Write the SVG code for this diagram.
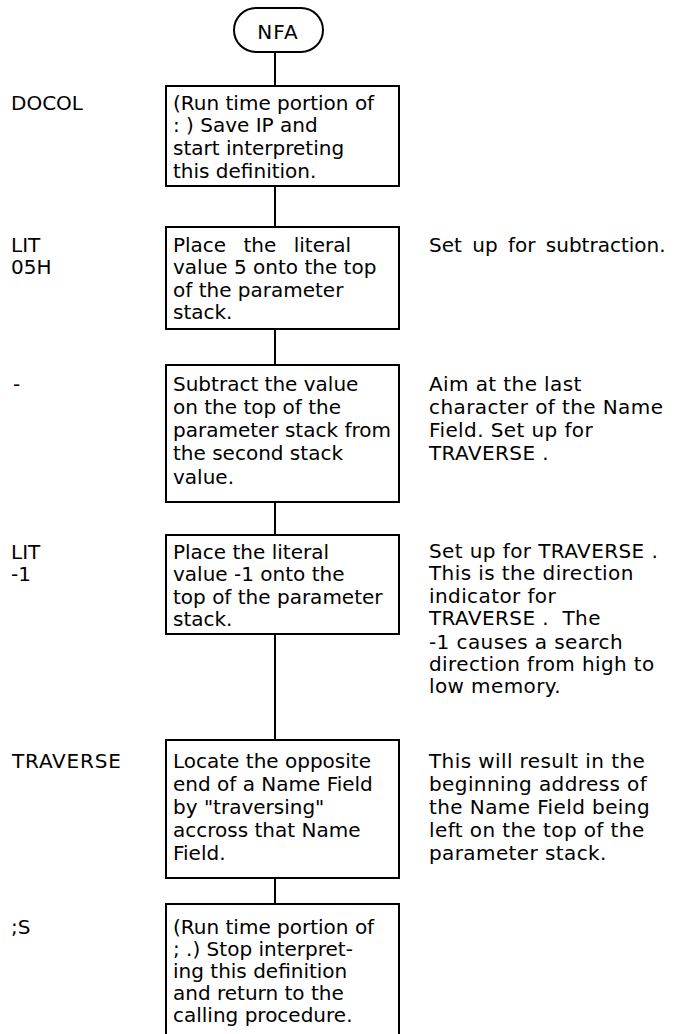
<svg xmlns="http://www.w3.org/2000/svg" width="677" height="1034" viewBox="0 0 677 1034">
<style>
text{font-family:"DejaVu Sans","Liberation Sans",sans-serif;font-size:20px;fill:#000}
.box{fill:#fff;stroke:#000;stroke-width:2}
.conn{stroke:#000;stroke-width:2;fill:none}
.pre{white-space:pre}
.rc{letter-spacing:0.4px}
</style>
<rect width="677" height="1034" fill="#fff"/>
<g id="connectors">
<line class="conn" x1="275" y1="52" x2="275" y2="86"/>
<line class="conn" x1="275" y1="186" x2="275" y2="227"/>
<line class="conn" x1="275" y1="329" x2="275" y2="365"/>
<line class="conn" x1="275" y1="502" x2="275" y2="535"/>
<line class="conn" x1="275" y1="634" x2="275" y2="740"/>
<line class="conn" x1="275" y1="878" x2="275" y2="904"/>
</g>
<g id="nfa">
<rect class="box" x="234" y="8" width="89" height="44" rx="22" ry="22"/>
<text x="278" y="39" text-anchor="middle" letter-spacing="1">NFA</text>
</g>
<g id="docol">
<text x="11" y="110">DOCOL</text>
<rect class="box" x="166" y="86" width="233" height="100"/>
<text x="173" y="110">(Run time portion of</text>
<text x="173" y="132">: ) Save IP and</text>
<text x="173" y="155">start interpreting</text>
<text x="173" y="178">this definition.</text>
</g>
<g id="lit05h">
<text x="11" y="252">LIT</text>
<text x="11" y="274">05H</text>
<rect class="box" x="166" y="227" width="233" height="102"/>
<text x="173" y="252" word-spacing="11">Place the literal</text>
<text x="173" y="274">value 5 onto the top</text>
<text x="173" y="297">of the parameter</text>
<text x="173" y="319">stack.</text>
<text x="429" y="252" word-spacing="4">Set up for subtraction.</text>
</g>
<g id="minus">
<text x="13" y="391">-</text>
<rect class="box" x="166" y="365" width="233" height="137"/>
<text x="173" y="391">Subtract the value</text>
<text x="173" y="414">on the top of the</text>
<text x="173" y="437">parameter stack from</text>
<text x="173" y="460">the second stack</text>
<text x="173" y="484">value.</text>
<text class="rc" x="429" y="391">Aim at the last</text>
<text class="rc" x="429" y="414">character of the Name</text>
<text class="rc" x="429" y="437">Field. Set up for</text>
<text class="rc" x="429" y="460">TRAVERSE .</text>
</g>
<g id="litm1">
<text x="11" y="559">LIT</text>
<text x="11" y="581">-1</text>
<rect class="box" x="166" y="535" width="233" height="99"/>
<text x="173" y="559">Place the literal</text>
<text x="173" y="581">value -1 onto the</text>
<text x="173" y="604">top of the parameter</text>
<text x="173" y="626">stack.</text>
<text class="rc" x="429" y="558">Set up for TRAVERSE .</text>
<text class="rc" x="429" y="580">This is the direction</text>
<text class="rc" x="429" y="603">indicator for</text>
<text class="rc pre" x="429" y="625">TRAVERSE .  The</text>
<text class="rc" x="429" y="649">-1 causes a search</text>
<text class="rc" x="429" y="671">direction from high to</text>
<text class="rc" x="429" y="693">low memory.</text>
</g>
<g id="traverse">
<text x="12" y="768" letter-spacing="0.8">TRAVERSE</text>
<rect class="box" x="166" y="740" width="233" height="138"/>
<text x="173" y="768">Locate the opposite</text>
<text x="173" y="791">end of a Name Field</text>
<text x="173" y="814">by "traversing"</text>
<text x="173" y="837">accross that Name</text>
<text x="173" y="860">Field.</text>
<text class="rc" x="429" y="768">This will result in the</text>
<text class="rc" x="429" y="791">beginning address of</text>
<text class="rc" x="429" y="814">the Name Field being</text>
<text class="rc" x="429" y="837">left on the top of the</text>
<text class="rc" x="429" y="860">parameter stack.</text>
</g>
<g id="semis">
<text x="11" y="934">;S</text>
<rect class="box" x="166" y="904" width="233" height="140"/>
<text x="173" y="934">(Run time portion of</text>
<text x="173" y="956">; .) Stop interpret-</text>
<text x="173" y="978">ing this definition</text>
<text x="173" y="1000">and return to the</text>
<text x="173" y="1022">calling procedure.</text>
</g>
</svg>
